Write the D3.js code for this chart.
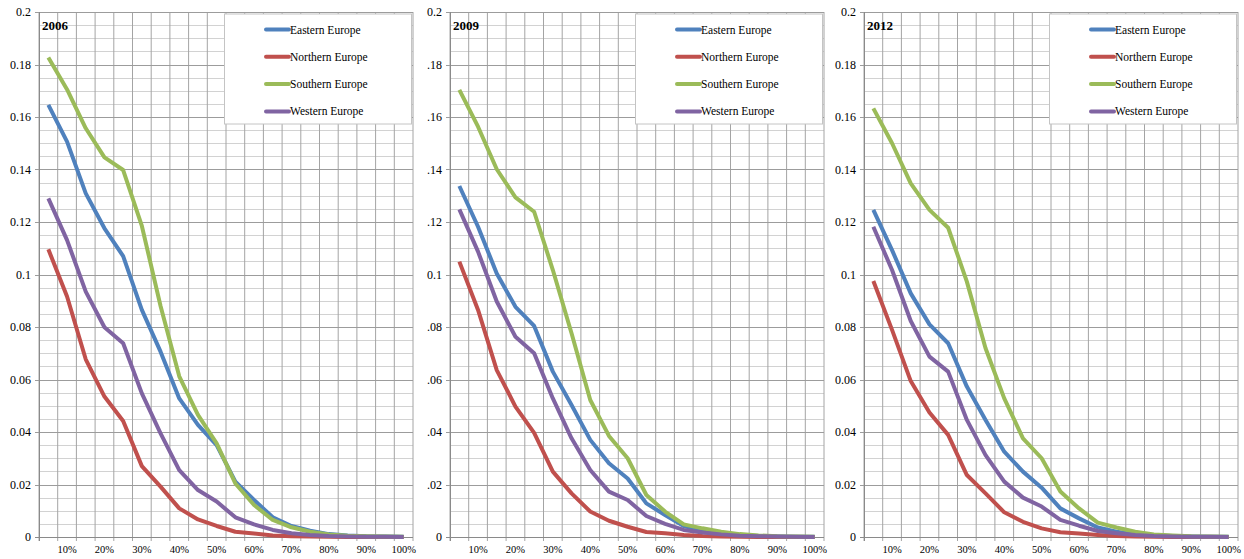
<!DOCTYPE html>
<html>
<head>
<meta charset="utf-8">
<script src="https://cdn.jsdelivr.net/npm/d3@7"></script>
<style>
    body { margin: 0; background: #fff; }
    text { font-family: 'Liberation Serif', 'Times New Roman', 'DejaVu Serif', serif; }
</style>
</head>
<body>
<svg id="chart" width="1244" height="559"></svg>
<script>
// Share of population by threshold, three years, four European regions
const categories = ['5%', '10%', '15%', '20%', '25%', '30%', '35%', '40%', '45%', '50%',
    '55%', '60%', '65%', '70%', '75%', '80%', '85%', '90%', '95%', '100%'];
const regions = ['Eastern Europe', 'Northern Europe', 'Southern Europe', 'Western Europe'];
const colors = ['#4F81BD', '#C0504D', '#9BBB59', '#8064A2'];
const years = ['2006', '2009', '2012'];

const yTicks = [0, 0.02, 0.04, 0.06, 0.08, 0.1, 0.12, 0.14, 0.16, 0.18, 0.2];
const yLabelsFull = ['0', '0.02', '0.04', '0.06', '0.08', '0.1', '0.12', '0.14', '0.16', '0.18', '0.2'];
const yLabelsShort = ['0', '.02', '.04', '.06', '.08', '0.1', '.12', '.14', '.16', '.18', '0.2'];

const eastern2006 = [0.1646, 0.1506, 0.1309, 0.1176, 0.1070, 0.0865, 0.0706, 0.0528, 0.0427, 0.0350,
    0.0211, 0.0141, 0.0075, 0.0042, 0.0024, 0.0011, 0.0006, 0.0003, 0.0002, 0.0001];
const northern2006 = [0.1096, 0.0916, 0.0677, 0.0535, 0.0442, 0.0270, 0.0192, 0.0109, 0.0067, 0.0042,
    0.0020, 0.0013, 0.0006, 0.0003, 0.0002, 0.0001, 0, 0, 0, 0];
const southern2006 = [0.1827, 0.1705, 0.1557, 0.1446, 0.1398, 0.1185, 0.0880, 0.0612, 0.0465, 0.0357,
    0.0204, 0.0122, 0.0065, 0.0037, 0.0020, 0.0010, 0.0005, 0.0003, 0.0002, 0.0001];
const western2006 = [0.1290, 0.1131, 0.0935, 0.0799, 0.0738, 0.0547, 0.0395, 0.0255, 0.0179, 0.0135,
    0.0075, 0.0048, 0.0027, 0.0014, 0.0008, 0.0004, 0.0002, 0.0001, 0.0001, 0];

const eastern2009 = [0.1337, 0.1182, 0.1004, 0.0877, 0.0804, 0.0630, 0.0503, 0.0370, 0.0281, 0.0223,
    0.0128, 0.0084, 0.0042, 0.0024, 0.0014, 0.0008, 0.0004, 0.0002, 0.0001, 0.0001];
const northern2009 = [0.1049, 0.0865, 0.0636, 0.0497, 0.0397, 0.0249, 0.0166, 0.0097, 0.0062, 0.0039,
    0.0019, 0.0014, 0.0008, 0.0004, 0.0002, 0.0001, 0, 0, 0, 0];
const southern2009 = [0.1703, 0.1563, 0.1401, 0.1294, 0.1239, 0.1017, 0.0776, 0.0522, 0.0385, 0.0300,
    0.0160, 0.0097, 0.0048, 0.0033, 0.0020, 0.0011, 0.0006, 0.0003, 0.0002, 0.0001];
const western2009 = [0.1248, 0.1087, 0.0897, 0.0763, 0.0700, 0.0528, 0.0376, 0.0255, 0.0173, 0.0141,
    0.0080, 0.0050, 0.0027, 0.0017, 0.0010, 0.0005, 0.0003, 0.0002, 0.0001, 0];

const eastern2012 = [0.1246, 0.1093, 0.0928, 0.0810, 0.0738, 0.0573, 0.0446, 0.0325, 0.0249, 0.0188,
    0.0109, 0.0071, 0.0036, 0.0020, 0.0011, 0.0007, 0.0004, 0.0002, 0.0001, 0.0001];
const northern2012 = [0.0975, 0.0789, 0.0594, 0.0474, 0.0389, 0.0236, 0.0166, 0.0094, 0.0058, 0.0033,
    0.0018, 0.0013, 0.0008, 0.0004, 0.0002, 0.0001, 0, 0, 0, 0];
const southern2012 = [0.1633, 0.1500, 0.1347, 0.1246, 0.1178, 0.0973, 0.0719, 0.0528, 0.0376, 0.0300,
    0.0173, 0.0109, 0.0055, 0.0036, 0.0020, 0.0010, 0.0006, 0.0003, 0.0002, 0.0001];
const western2012 = [0.1182, 0.1017, 0.0823, 0.0687, 0.0630, 0.0446, 0.0312, 0.0211, 0.0150, 0.0116,
    0.0065, 0.0043, 0.0023, 0.0014, 0.0008, 0.0004, 0.0002, 0.0001, 0.0001, 0];

const panels = [
    { year: years[0], left: 39, yLabels: yLabelsFull, series: [eastern2006, northern2006, southern2006, western2006] },
    { year: years[1], left: 450, yLabels: yLabelsShort, series: [eastern2009, northern2009, southern2009, western2009] },
    { year: years[2], left: 864, yLabels: yLabelsFull, series: [eastern2012, northern2012, southern2012, western2012] }
];

const plotTop = 12;
const plotBottom = 537;
const plotWidth = 374;
const serif = "'Liberation Serif', 'Times New Roman', 'DejaVu Serif', serif";

const svg = d3.select('#chart');

function drawPanel(panel) {
    const g = svg.append('g').attr('transform', `translate(${panel.left},0)`);

    const x = d3.scaleBand().domain(categories).range([0, plotWidth]);
    const y = d3.scaleLinear().domain([0, 0.2]).range([plotBottom, plotTop]);

    // minor horizontal gridlines every 0.005
    const minor = d3.range(0, 41).map(i => i * 0.005).filter((d, i) => i % 4 !== 0);
    g.append('g').selectAll('line')
        .data(minor)
        .enter().append('line')
        .attr('x1', 0).attr('x2', plotWidth)
        .attr('y1', d => Math.round(y(d)) + 0.5)
        .attr('y2', d => Math.round(y(d)) + 0.5)
        .attr('stroke', '#d2d2d2')
        .attr('stroke-width', 1.2);

    // vertical gridlines on category boundaries, with small ticks below the axis
    const bounds = categories.map(c => x(c)).concat([plotWidth]);
    g.append('g').selectAll('line')
        .data(bounds)
        .enter().append('line')
        .attr('x1', d => d).attr('x2', d => d)
        .attr('y1', plotTop)
        .attr('y2', plotBottom + 4)
        .attr('stroke', '#a4a4a4')
        .attr('stroke-width', 1);

    // major horizontal gridlines with ticks left of the axis
    g.append('g').selectAll('line')
        .data(yTicks)
        .enter().append('line')
        .attr('x1', -4).attr('x2', plotWidth)
        .attr('y1', d => Math.round(y(d)) + 0.5)
        .attr('y2', d => Math.round(y(d)) + 0.5)
        .attr('stroke', '#9c9c9c')
        .attr('stroke-width', 1);

    // axis lines
    g.append('line')
        .attr('x1', 0.5).attr('x2', 0.5)
        .attr('y1', plotTop).attr('y2', plotBottom + 4)
        .attr('stroke', '#8a8a8a');
    g.append('line')
        .attr('x1', -4).attr('x2', plotWidth)
        .attr('y1', plotBottom + 0.5).attr('y2', plotBottom + 0.5)
        .attr('stroke', '#8a8a8a');

    // y tick labels
    g.append('g').selectAll('text')
        .data(yTicks)
        .enter().append('text')
        .attr('x', -8)
        .attr('y', d => y(d) + 4)
        .attr('text-anchor', 'end')
        .attr('font-family', serif)
        .attr('font-size', '12px')
        .attr('fill', '#000')
        .text((d, i) => panel.yLabels[i]);

    // x tick labels, every other category
    g.append('g').selectAll('text')
        .data(categories.filter((c, i) => i % 2 === 1))
        .enter().append('text')
        .attr('x', d => x(d) + x.bandwidth() / 2)
        .attr('y', 553)
        .attr('text-anchor', 'middle')
        .attr('font-family', serif)
        .attr('font-size', '10.5px')
        .attr('fill', '#000')
        .text(d => d);

    // series lines
    const line = d3.line()
        .x((d, i) => x(categories[i]) + x.bandwidth() / 2)
        .y(d => y(d));

    g.append('g').selectAll('path')
        .data(panel.series)
        .enter().append('path')
        .attr('d', d => line(d))
        .attr('fill', 'none')
        .attr('stroke', (d, i) => colors[i])
        .attr('stroke-width', 4)
        .attr('stroke-linejoin', 'round');

    // year title
    g.append('text')
        .attr('x', 3)
        .attr('y', 30)
        .attr('font-family', serif)
        .attr('font-size', '13px')
        .attr('font-weight', 'bold')
        .text(panel.year);

    // legend
    const legend = g.append('g').attr('transform', 'translate(185,12)');
    legend.append('rect')
        .attr('x', 0.5).attr('y', 2)
        .attr('width', plotWidth - 185 - 2)
        .attr('height', 110)
        .attr('fill', '#fff')
        .attr('stroke', '#c4c4c4');

    const item = legend.selectAll('.item')
        .data(regions)
        .enter().append('g')
        .attr('class', 'item')
        .attr('transform', (d, i) => `translate(0,${17.5 + i * 27.3})`);

    item.append('line')
        .attr('x1', 42).attr('x2', 65)
        .attr('y1', 0).attr('y2', 0)
        .attr('stroke', (d, i) => colors[i])
        .attr('stroke-width', 4)
        .attr('stroke-linecap', 'round');

    item.append('text')
        .attr('x', 66)
        .attr('y', 4)
        .attr('font-family', serif)
        .attr('font-size', '11.5px')
        .attr('fill', '#000')
        .text(d => d);
}

panels.forEach(drawPanel);
</script>
</body>
</html>
